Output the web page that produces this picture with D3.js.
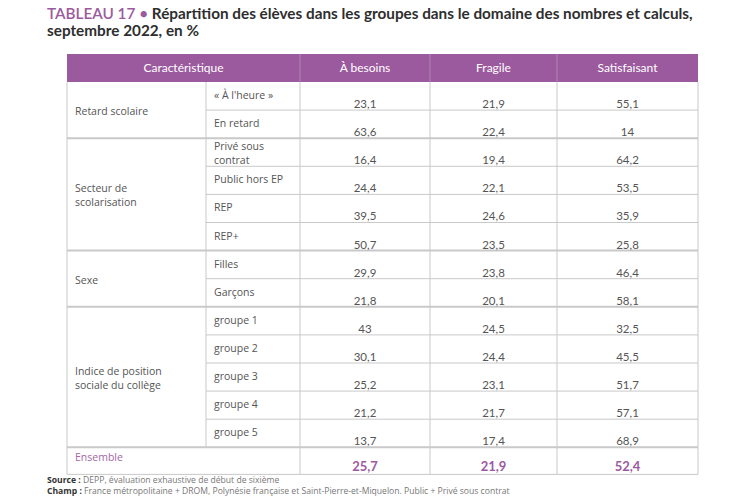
<!DOCTYPE html>
<html>
<head>
<meta charset="utf-8">
<script src="https://cdn.jsdelivr.net/npm/d3@7"></script>
<style>
	body { margin:0; background:#fff; }
	svg { display:block; }
</style>
</head>
<body>
<svg id="chart" width="750" height="501"></svg>
<script>
const columns = ["Caractéristique", "À besoins", "Fragile", "Satisfaisant"];
const series = ["À besoins", "Fragile", "Satisfaisant"];
const groups = [
	["Retard scolaire"],
	["Secteur de", "scolarisation"],
	["Sexe"],
	["Indice de position", "sociale du collège"]
];
const categories = [
	["« À l'heure »"], ["En retard"],
	["Privé sous", "contrat"], ["Public hors EP"], ["REP"], ["REP+"],
	["Filles"], ["Garçons"],
	["groupe 1"], ["groupe 2"], ["groupe 3"], ["groupe 4"], ["groupe 5"]
];
const categoryGroup = [0,0,1,1,1,1,2,2,3,3,3,3,3];
const besoins = [23.1, 63.6, 16.4, 24.4, 39.5, 50.7, 29.9, 21.8, 43, 30.1, 25.2, 21.2, 13.7];
const fragile = [21.9, 22.4, 19.4, 22.1, 24.6, 23.5, 23.8, 20.1, 24.5, 24.4, 23.1, 21.7, 17.4];
const satisfaisant = [55.1, 14, 64.2, 53.5, 35.9, 25.8, 46.4, 58.1, 32.5, 45.5, 51.7, 57.1, 68.9];
const ensembleLabel = "Ensemble";
const ensemble = [25.7, 21.9, 52.4];

const purple = "#9b5a9e";
const lineColor = "#c9c9c9";
const fmt = (v) => String(v).replace(".", ",");

const drawTable = (svg_name) => {
	let chart = d3.select(svg_name);
	let header = {top:54, height:28};
	// row band scale, including the Ensemble row at the end
	let y = d3.scaleBand()
						.domain(d3.range(categories.length + 1))
						.range([header.top + header.height, header.top + header.height + 28.1 * (categories.length + 1)])
						.padding(0);
	// left edges of the five layout columns
	let x = d3.scaleOrdinal()
						.domain(["groupe", "categorie"].concat(series))
						.range([67, 206, 300, 430, 557]);
	let right = 698;
	let colRight = (k) => {
		let keys = x.domain();
		let i = keys.indexOf(k);
		return i === keys.length - 1 ? right : x(keys[i + 1]);
	};
	let colCenter = (k) => (x(k) + colRight(k)) / 2;

	addHeader(chart, x, colRight, colCenter, header, right);
	addGrid(chart, x, y, header, right);
	addCells(chart, x, y, colCenter);
	addTitle(chart);
	addFooter(chart);
}

const addHeader = (chart, x, colRight, colCenter, header, right) => {
	let g = chart.append("g").attr("class", "header");
	g.append("rect")
		.attr("x", x("groupe"))
		.attr("y", header.top)
		.attr("width", right - x("groupe"))
		.attr("height", header.height)
		.attr("fill", purple);
	series.forEach((s) => {
		g.append("line")
			.attr("x1", x(s)).attr("x2", x(s))
			.attr("y1", header.top).attr("y2", header.top + header.height)
			.attr("stroke", "rgba(255,255,255,0.25)");
	});
	let headPos = [(x("groupe") + x(series[0])) / 2].concat(series.map(colCenter));
	g.selectAll("text")
		.data(columns)
		.enter()
		.append("text")
			.attr("x", (d, i) => headPos[i])
			.attr("y", header.top + header.height / 2 + 4)
			.attr("text-anchor", "middle")
			.style("font-family", "Lato, sans-serif")
			.style("font-size", "12px")
			.style("fill", "#fff")
			.text((d) => d);
}

const addGrid = (chart, x, y, header, right) => {
	let g = chart.append("g").attr("class", "grid");
	let n = categories.length;
	let bottom = y(n) + y.bandwidth() - 1;
	// horizontal row lines
	categories.forEach((c, i) => {
		if (i === 0) return;
		let newGroup = categoryGroup[i] !== categoryGroup[i - 1];
		g.append("line")
			.attr("x1", newGroup ? x("groupe") : x("categorie"))
			.attr("x2", right)
			.attr("y1", y(i)).attr("y2", y(i))
			.attr("stroke", lineColor)
			.attr("stroke-width", newGroup ? 2 : 1);
	});
	g.append("line")
		.attr("x1", x("groupe")).attr("x2", right)
		.attr("y1", y(n)).attr("y2", y(n))
		.attr("stroke", lineColor).attr("stroke-width", 2);
	g.append("line")
		.attr("x1", x("groupe")).attr("x2", right)
		.attr("y1", bottom).attr("y2", bottom)
		.attr("stroke", lineColor);
	// vertical lines
	[x("groupe"), x(series[0]), x(series[1]), x(series[2]), right].forEach((vx) => {
		g.append("line")
			.attr("x1", vx).attr("x2", vx)
			.attr("y1", header.top + header.height).attr("y2", bottom)
			.attr("stroke", lineColor);
	});
	g.append("line")
		.attr("x1", x("categorie")).attr("x2", x("categorie"))
		.attr("y1", header.top + header.height).attr("y2", y(n))
		.attr("stroke", lineColor);
}

const addCells = (chart, x, y, colCenter) => {
	let g = chart.append("g").attr("class", "cells");
	let labelFont = "'Open Sans', sans-serif";
	// group labels, centered on the rows they span
	groups.forEach((lines, gi) => {
		let idx = categoryGroup.map((d, i) => d === gi ? i : -1).filter((i) => i >= 0);
		let mid = (y(idx[0]) + y(idx[idx.length - 1]) + y.bandwidth()) / 2;
		lines.forEach((t, li) => {
			g.append("text")
				.attr("x", x("groupe") + 8)
				.attr("y", mid + 5 + (li - (lines.length - 1) / 2) * 14)
				.style("font-family", labelFont)
				.style("font-size", "10.5px")
				.style("fill", "#555")
				.text(t);
		});
	});
	// category labels, top aligned
	categories.forEach((lines, i) => {
		let top = lines.length > 1 ? y(i) + 12 : y(i) + 17;
		lines.forEach((t, li) => {
			g.append("text")
				.attr("x", x("categorie") + 8)
				.attr("y", top + li * 14)
				.style("font-family", labelFont)
				.style("font-size", "10.5px")
				.style("fill", "#555")
				.text(t);
		});
	});
	// values
	let values = [besoins, fragile, satisfaisant];
	series.forEach((s, si) => {
		g.selectAll(null)
			.data(values[si])
			.enter()
			.append("text")
				.attr("x", colCenter(s))
				.attr("y", (d, i) => y(i) + 26)
				.attr("text-anchor", "middle")
				.style("font-family", "Lato, sans-serif")
				.style("font-size", "11.5px")
				.style("fill", "#555")
				.text((d) => fmt(d));
	});
	// Ensemble row
	let n = categories.length;
	g.append("text")
		.attr("x", x("groupe") + 8)
		.attr("y", y(n) + 14)
		.style("font-family", labelFont)
		.style("font-size", "10.5px")
		.style("fill", "#a467a8")
		.text(ensembleLabel);
	g.selectAll(null)
		.data(ensemble)
		.enter()
		.append("text")
			.attr("x", (d, i) => colCenter(series[i]))
			.attr("y", y(n) + 24)
			.attr("text-anchor", "middle")
			.style("font-family", "Lato, sans-serif")
			.style("font-size", "13px")
			.style("font-weight", "bold")
			.style("fill", purple)
			.text((d) => fmt(d));
}

const addTitle = (chart) => {
	let t = chart.append("text")
		.attr("x", 47)
		.attr("y", 19)
		.style("font-family", "Lato, sans-serif")
		.style("font-size", "15.3px")
		.style("font-weight", "bold")
		.style("fill", "#2e2e2e");
	t.append("tspan").style("fill", purple).style("font-weight", "600").text("TABLEAU 17 • ");
	t.append("tspan").text("Répartition des élèves dans les groupes dans le domaine des nombres et calculs,");
	chart.append("text")
		.attr("x", 47)
		.attr("y", 36)
		.style("font-family", "Lato, sans-serif")
		.style("font-size", "15.3px")
		.style("font-weight", "bold")
		.style("fill", "#2e2e2e")
		.text("septembre 2022, en %");
}

const addFooter = (chart) => {
	let notes = [
		["Source : ", "DEPP, évaluation exhaustive de début de sixième"],
		["Champ : ", "France métropolitaine + DROM, Polynésie française et Saint-Pierre-et-Miquelon. Public + Privé sous contrat"]
	];
	notes.forEach((n, i) => {
		let t = chart.append("text")
			.attr("x", 47)
			.attr("y", 483 + i * 11)
			.style("font-family", "'Open Sans', sans-serif")
			.style("font-size", "8.6px");
		t.append("tspan").style("font-weight", "bold").style("fill", "#333").text(n[0]);
		t.append("tspan").style("fill", "#777").text(n[1]);
	});
}

drawTable("#chart");
</script>
</body>
</html>
